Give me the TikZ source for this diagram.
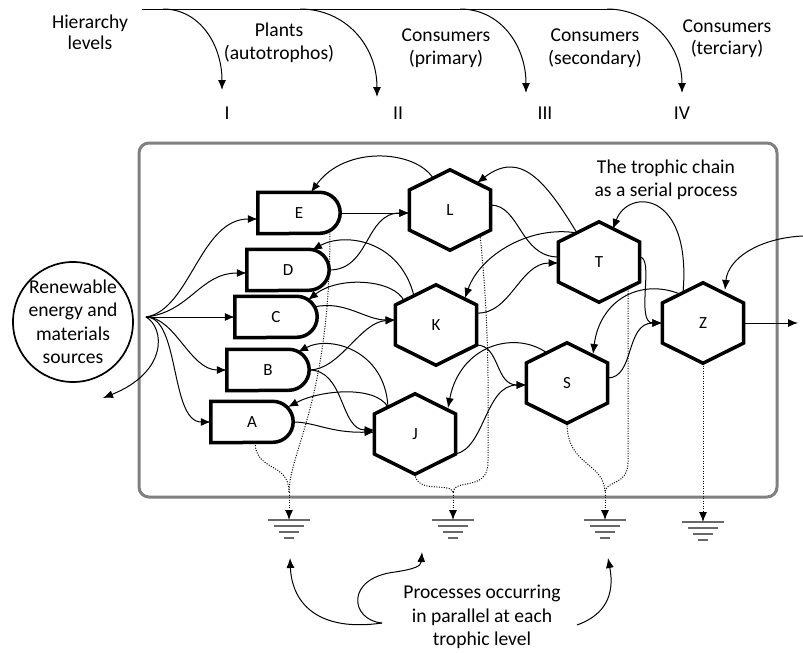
\documentclass[tikz,border=0pt]{standalone}
\usepackage{fontspec}
\setmainfont{Carlito}
\usetikzlibrary{arrows.meta,calc}
\definecolor{framegray}{RGB}{128,128,128}
\definecolor{earthgray}{RGB}{105,105,105}

% D-shaped producer box: flat left side, half-round right side
\newcommand\mkgate[1]{%
  \draw[outline] (#1.north west) -- ([xshift=-20.5pt]#1.north east)
    arc[start angle=90,end angle=-90,radius=20.5pt] -- (#1.south west) -- cycle;}
% pointy-top hexagon around a consumer node
\newcommand\mkhex[1]{%
  \draw[outline] (#1.north) -- ([yshift=20pt]#1.east) -- ([yshift=-20pt]#1.east)
    -- (#1.south) -- ([yshift=-20pt]#1.west) -- ([yshift=20pt]#1.west) -- cycle;}
% heat sink (ground) symbol hanging below a coordinate
\newcommand\mkground[1]{%
  \draw[earth] ([xshift=-21pt]#1) -- ([xshift=21pt]#1)
    ([xshift=-15pt,yshift=-6pt]#1) -- ([xshift=15pt,yshift=-6pt]#1)
    ([xshift=-10pt,yshift=-12pt]#1) -- ([xshift=10pt,yshift=-12pt]#1)
    ([xshift=-5pt,yshift=-18pt]#1) -- ([xshift=5pt,yshift=-18pt]#1);}

\begin{document}
\begin{tikzpicture}[x=1pt,y=-1pt,
  font=\fontsize{19.6pt}{23.5pt}\selectfont,
  tip/.style={-{Latex[length=10pt,width=8pt]}},
  conn/.style={tip, line width=1pt},
  waste/.style={line width=1pt, dash pattern=on 1pt off 1.5pt},
  outline/.style={line width=3.5pt, line join=miter},
  gatebox/.style={minimum width=82pt, minimum height=41pt, inner sep=0pt,
    font=\fontsize{17pt}{20pt}\selectfont},
  hexbox/.style={minimum width=81pt, minimum height=80pt, inner sep=0pt,
    font=\fontsize{17pt}{20pt}\selectfont},
  earth/.style={line width=2pt, earthgray},
  txt/.style={align=center, inner sep=0pt},
]
\fill[white] (0,0) rectangle (803,653);
\useasboundingbox (0,0) rectangle (803,653);

% ---- hierarchy levels along the top ----
\node[txt] (hier)   at (90,32)  {Hierarchy\\[-2.5pt]levels};
\node[txt] (plants) at (279,43) {Plants\\(autotrophos)};
\node[txt] (cprim)  at (446,48) {Consumers\\(primary)};
\node[txt] (csec)   at (595,48) {Consumers\\(secondary)};
\node[txt] (cter)   at (727,39) {Consumers\\[-1.5pt](terciary)};
\node[txt] (lvI)   at (227,113) {I};
\node[txt] (lvII)  at (398,113) {II};
\node[txt] (lvIII) at (545,113) {III};
\node[txt] (lvIV)  at (682,113) {IV};

\coordinate (barL) at (142,9);
\coordinate (barR) at (613,9);
\coordinate (b1) at (163,9);
\coordinate (b2) at (300,9);
\coordinate (b3) at (460,9);
\coordinate (b4) at (607,9);
\draw[line width=1pt] (barL) -- (barR);
\draw[conn] (b1) .. controls (200,9) and (222,45) .. ($(lvI)+(-5,-23)$);
\draw[conn] (b2) .. controls (345,9) and (377,45) .. ($(lvII)+(-21,-16)$);
\draw[conn] (b3) .. controls (500,9) and (526,45) .. ($(lvIII)+(-19,-20)$);
\draw[conn] (b4) .. controls (650,9) and (682,45) .. ($(lvIV)+(0,-20)$);

% ---- system boundary ----
\draw[line width=3pt, framegray, rounded corners=10pt] (139,143) rectangle (777,497);

\node[txt] (chain) at (666,180) {The trophic chain\\as a serial process};

% ---- energy source ----
\node[txt] (src) at (73,322) {Renewable\\energy and\\materials\\sources};
\draw[line width=1.7pt] (src.center) circle[radius=60pt];

% ---- producers ----
\node[gatebox] (E) at (299,213) {E};
\node[gatebox] (D) at (288,270) {D};
\node[gatebox] (C) at (276,317) {C};
\node[gatebox] (B) at (268,370) {B};
\node[gatebox] (A) at (252,422) {A};
\foreach \g in {E,D,C,B,A} {\mkgate{\g}}

% ---- consumers ----
\node[hexbox] (L) at (450,210) {L};
\node[hexbox] (K) at (436,325) {K};
\node[hexbox] (J) at (415,434) {J};
\node[hexbox] (T) at (599,262) {T};
\node[hexbox] (S) at (567,383) {S};
\node[hexbox] (Z) at (703,323) {Z};
\foreach \h in {L,K,J,T,S,Z} {\mkhex{\h}}

% ---- supply from the source ----
\coordinate (fan) at (146,317);
\coordinate (loss) at (103,398);
\draw[conn] (fan) .. controls (190,310) and (200,219) .. ([yshift=-6pt]E.west);
\draw[conn] (fan) .. controls (190,312) and (200,273) .. ([yshift=-3pt]D.west);
\draw[conn] (fan) -- (C.west);
\draw[conn] (fan) .. controls (175,317) and (190,370) .. (B.west);
\draw[conn] (fan) .. controls (180,317) and (170,422) .. (A.west);
\draw[conn] (fan) .. controls (165,328) and (168,372) .. (loss);

% ---- flows into and out of the top consumer ----
\coordinate (inflow) at (803,236);
\coordinate (outflow) at (798,323);
\draw[conn] (inflow) .. controls (760,238) and (728,258) .. ($(Z)+(22,-33)$);
\draw[conn] (Z.east) -- (outflow);

% ---- producers -> primary consumers ----
\draw[conn] (E.east) -- ([yshift=-3pt]L.west);
\draw[conn] (D.east) .. controls (370,270) and (365,213) .. ([yshift=-3pt]L.west);
\draw[conn] ($(C)+(38,-10)$) .. controls (345,300) and (365,320) .. ($(K)+(-40.5,-5)$);
\draw[conn] (B.east) .. controls (340,370) and (360,322) .. ($(K)+(-40.5,-5)$);
\draw[conn] (B.east) .. controls (345,370) and (340,430) .. ($(J)+(-40.5,-4)$);
\draw[conn] (A.east) .. controls (315,422) and (330,433) .. ($(J)+(-40.5,-2)$);

% ---- feedback from primary consumers to producers ----
\draw[conn] ($(L)+(-17,-32)$) .. controls (415,150) and (345,145) .. ([xshift=12pt]E.north);
\draw[conn] ($(K)+(-22,-29)$) .. controls (400,240) and (345,232) .. ($(D)+(24,-20)$);
\draw[conn] ($(K)+(-32,-24)$) .. controls (395,280) and (340,275) .. ($(C)+(32,-17)$);
\draw[conn] ($(J)+(-27,-27)$) .. controls (385,350) and (330,335) .. ($(B)+(30,-18)$);
\draw[conn] ($(J)+(-27,-27)$) .. controls (375,385) and (320,390) .. ($(A)+(36,-15)$);

% ---- primary -> secondary consumers and back ----
\draw[line width=1pt] ($(L)+(40.5,-5)$) .. controls (520,205) and (520,257) .. ($(T)+(-40.5,-5)$);
\draw[conn] ($(K)+(40.5,-12)$) .. controls (510,315) and (520,263) .. ($(T)+(-40.5,1)$);
\draw[conn] ($(T)+(-22,-29)$) .. controls (545,180) and (520,150) .. ($(L)+(27,-27)$);
\draw[conn] ($(T)+(-22,-29)$) .. controls (530,225) and (480,255) .. ($(K)+(29,-27)$);
\draw[conn] ($(K)+(40.5,20)$) .. controls (500,345) and (495,385) .. ($(S)+(-40.5,2)$);
\draw[conn] ($(J)+(40.5,20)$) .. controls (485,448) and (485,385) .. ($(S)+(-40.5,2)$);
\draw[conn] ($(S)+(-20,-30)$) .. controls (515,330) and (460,345) .. ($(J)+(33,-26)$);

% ---- secondary -> tertiary consumer and back ----
\draw[conn] ($(T)+(40.5,-5)$) .. controls (655,257) and (635,323) .. (Z.west);
\draw[conn] ($(S)+(40.5,-5)$) .. controls (635,378) and (625,323) .. (Z.west);
\draw[conn] ($(Z)+(-20,-30)$) .. controls (692,190) and (628,188) .. ($(T)+(14,-33)$);
\draw[conn] ($(Z)+(-23,-29)$) .. controls (640,278) and (600,300) .. ($(S)+(26,-29)$);

% ---- dissipation to the heat sinks ----
\coordinate (g1) at (289,520);
\coordinate (g2) at (453,520);
\coordinate (g3) at (605,520);
\coordinate (g4) at (703,522);
\coordinate (m1) at (289,492);
\coordinate (m2) at (453,492);
\coordinate (m3) at (605,492);
\foreach \g in {g1,g2,g3,g4} {\mkground{\g}}

\draw[waste] ($(E)+(31,18)$) .. controls (330,400) and (290,450) .. (m1);
\draw[waste] ([xshift=3pt]A.south) .. controls (256,472) and (289,462) .. (m1);
\draw[waste, tip] (m1) -- (g1);

\draw[waste] ($(L)+(30,25)$) .. controls (490,330) and (488,400) .. (488,462)
  .. controls (488,492) and (455,478) .. (m2);
\draw[waste] (J.south) .. controls (417,494) and (450,482) .. (m2);
\draw[waste, tip] (m2) -- (g2);

\draw[waste] ($(T)+(29,26)$) -- (628,462) .. controls (628,486) and (606,480) .. (m3);
\draw[waste] (S.south) .. controls (567,466) and (604,462) .. (m3);
\draw[waste, tip] (m3) -- (g3);

\draw[waste, tip] (Z.south) -- (g4);

% ---- note on parallel processes ----
\node[txt] (par) at (482,617) {Processes occurring\\in parallel at each\\trophic level};
\coordinate (pl) at (382,623);
\coordinate (pr) at (577,625);
\draw[conn] (pl) .. controls (320,632) and (292,605) .. ($(g1)+(1,38)$);
\draw[conn] (pl) .. controls (350,620) and (345,578) .. (395,572)
  .. controls (415,569) and (421,566) .. ($(g2)+(-31,32)$);
\draw[conn] (pr) .. controls (605,615) and (615,595) .. ($(g3)+(3,38)$);
\end{tikzpicture}
\end{document}
